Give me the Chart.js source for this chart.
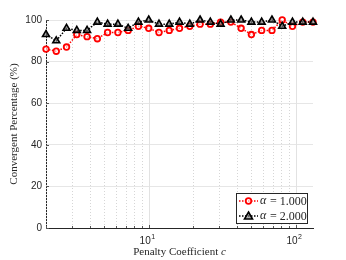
<!DOCTYPE html>
<html>
<head>
<meta charset="utf-8">
<script src="https://cdn.jsdelivr.net/npm/chart.js@4/dist/chart.umd.min.js"></script>
<style>
	html, body { margin: 0; padding: 0; background: #fff; }
	#wrap { width: 346px; height: 260px; }
</style>
</head>
<body>
<div id="wrap"><canvas id="conv"></canvas></div>
<script>
// penalty coefficient c (log spaced, 2 .. ~131)
const penalty = [2.000, 2.349, 2.759, 3.241, 3.807, 4.472, 5.253, 6.170, 7.248, 8.513,
	10.00, 11.75, 13.80, 16.21, 19.04, 22.36, 26.27, 30.85, 36.24, 42.57,
	50.00, 58.73, 68.99, 81.03, 95.18, 111.8, 131.3];
// convergent percentage for each alpha
const alpha1 = [86, 85, 87, 93, 92, 91, 94, 94, 95, 97,
	96, 94, 95, 96, 97, 98, 98, 99, 99, 96,
	93, 95, 95, 100, 97, 99, 99];
const alpha2 = [93, 90, 96, 95, 95, 99, 98, 98, 96, 99,
	100, 98, 98, 99, 98, 100, 99, 98, 100, 100,
	99, 99, 100, 97, 99, 99, 99];
const seriesNames = ["1.000", "2.000"];
const yTicks = [0, 20, 40, 60, 80, 100];
const xGrid = [2, 3, 4, 5, 6, 7, 8, 9, 10, 20, 30, 40, 50, 60, 70, 80, 90, 100];
const xMajor = [10, 100];

const axisCol = "#262626";
const sans = "'Liberation Sans', Arial, sans-serif";
const serif = "'Liberation Serif', 'DejaVu Serif', serif";

function pts(ys) {
	let out = [];
	for (let i = 0; i < penalty.length; i++) out.push({ x: penalty[i], y: ys[i] });
	return out;
}

// grid, inward ticks, labels and legend drawn the matlab way
const matlabLook = {
	id: "matlabLook",
	beforeDatasetsDraw(chart) {
		const ctx = chart.ctx;
		const a = chart.chartArea;
		const xs = chart.scales.x;
		const ys = chart.scales.y;
		ctx.save();
		for (const v of xGrid) {
			const px = Math.round(xs.getPixelForValue(v)) + 0.5;
			const major = xMajor.includes(v);
			ctx.strokeStyle = major ? "#e2e2e2" : "#d6d6d6";
			ctx.setLineDash(major ? [] : [1, 2]);
			ctx.lineWidth = 1;
			ctx.beginPath();
			ctx.moveTo(px, a.top);
			ctx.lineTo(px, a.bottom);
			ctx.stroke();
		}
		ctx.setLineDash([]);
		ctx.strokeStyle = "#555";
		for (const v of xGrid) {
			const px = Math.round(xs.getPixelForValue(v)) + 0.5;
			const len = xMajor.includes(v) ? 3 : 2;
			ctx.beginPath();
			ctx.moveTo(px, a.bottom);
			ctx.lineTo(px, a.bottom - len);
			ctx.stroke();
		}
		for (const v of yTicks) {
			const py = Math.round(ys.getPixelForValue(v)) + 0.5;
			ctx.beginPath();
			ctx.moveTo(a.left, py);
			ctx.lineTo(a.left + 3, py);
			ctx.stroke();
		}
		ctx.restore();
	},
	afterDraw(chart) {
		const ctx = chart.ctx;
		const a = chart.chartArea;
		const xs = chart.scales.x;
		ctx.save();
		ctx.fillStyle = axisCol;
		// x tick labels 10^1, 10^2
		for (let i = 0; i < xMajor.length; i++) {
			const px = xs.getPixelForValue(xMajor[i]);
			ctx.font = "10px " + sans;
			ctx.textAlign = "right";
			ctx.textBaseline = "alphabetic";
			ctx.fillText("10", px + 2, a.bottom + 16);
			ctx.font = "7px " + sans;
			ctx.textAlign = "left";
			ctx.fillText(String(i + 1), px + 2.5, a.bottom + 11);
		}
		// x title
		ctx.font = "11px " + serif;
		const t1 = "Penalty Coefficient ";
		const w1 = ctx.measureText(t1).width;
		ctx.font = "italic 11px " + serif;
		const w2 = ctx.measureText("c").width;
		const cx = (a.left + a.right) / 2;
		let x0 = cx - (w1 + w2) / 2;
		ctx.textAlign = "left";
		ctx.font = "11px " + serif;
		ctx.fillText(t1, x0, 255);
		ctx.font = "italic 11px " + serif;
		ctx.fillText("c", x0 + w1, 255);
		// y title
		ctx.translate(17, (a.top + a.bottom) / 2);
		ctx.rotate(-Math.PI / 2);
		ctx.textAlign = "center";
		ctx.font = "11px " + serif;
		ctx.fillText("Convergent Percentage (%)", 0, 0);
		ctx.restore();

		// legend box
		ctx.save();
		const bx = a.right - 77, by = a.bottom - 35, bw = 71, bh = 30;
		ctx.fillStyle = "#fff";
		ctx.fillRect(bx, by, bw, bh);
		ctx.strokeStyle = axisCol;
		ctx.lineWidth = 1;
		ctx.strokeRect(bx + 0.5, by + 0.5, bw, bh);
		chart.data.datasets.forEach((ds, i) => {
			const ly = by + 8 + i * 15;
			ctx.strokeStyle = ds.borderColor;
			ctx.lineWidth = 1.5;
			ctx.setLineDash([1.5, 1.5]);
			ctx.beginPath();
			ctx.moveTo(bx + 3, ly);
			ctx.lineTo(bx + 22, ly);
			ctx.stroke();
			ctx.setLineDash([]);
			ctx.lineWidth = ds.pointBorderWidth;
			ctx.strokeStyle = ds.pointBorderColor;
			ctx.fillStyle = ds.pointBackgroundColor;
			const mx = bx + 12.5;
			ctx.beginPath();
			if (ds.pointStyle === "circle") {
				ctx.arc(mx, ly, ds.pointRadius, 0, Math.PI * 2);
			} else {
				const r = ds.pointRadius;
				ctx.moveTo(mx, ly - r);
				ctx.lineTo(mx + r, ly + r * 0.75);
				ctx.lineTo(mx - r, ly + r * 0.75);
				ctx.closePath();
			}
			ctx.fill();
			ctx.stroke();
			ctx.fillStyle = axisCol;
			ctx.textBaseline = "middle";
			ctx.textAlign = "left";
			ctx.font = "italic 12px " + serif;
			ctx.fillText("\u03b1", bx + 24, ly);
			ctx.font = "12px " + serif;
			ctx.fillText(" = " + seriesNames[i], bx + 31, ly + 0.5);
		});
		ctx.restore();
	}
};

new Chart("conv", {
	type: "line",
	data: {
		datasets: [
			{
				label: "alpha = " + seriesNames[0],
				data: pts(alpha1),
				borderColor: "#ff0000",
				borderWidth: 1.5,
				borderDash: [1.5, 1.5],
				pointStyle: "circle",
				pointRadius: 2.8,
				pointBorderWidth: 1.8,
				pointBorderColor: "#ff0000",
				pointBackgroundColor: "rgba(255,255,255,0.6)",
				clip: false,
				order: 1,
			},
			{
				label: "alpha = " + seriesNames[1],
				data: pts(alpha2),
				borderColor: "#000000",
				borderWidth: 1.5,
				borderDash: [1.5, 1.5],
				pointStyle: "triangle",
				pointRadius: 4,
				pointBorderWidth: 1.6,
				pointBorderColor: "#000000",
				pointBackgroundColor: "rgba(120,120,120,0.6)",
				clip: false,
				order: 0,
			},
		],
	},
	options: {
		responsive: true,
		maintainAspectRatio: false,
		animation: false,
		layout: { padding: { left: 0, right: 33, top: 20, bottom: 0 } },
		plugins: {
			legend: { display: false },
			tooltip: { enabled: false },
		},
		scales: {
			x: {
				type: "logarithmic",
				min: penalty[0],
				max: penalty[penalty.length - 1],
				grid: { display: false },
				border: { display: true, color: axisCol, width: 1 },
				ticks: { display: false },
				afterFit(scale) { scale.height = 32; },
			},
			y: {
				type: "linear",
				min: 0,
				max: 100,
				afterBuildTicks(scale) { scale.ticks = yTicks.map(v => ({ value: v })); },
				grid: { color: "#e6e6e6", drawTicks: false },
				border: { display: true, color: axisCol, width: 1 },
				ticks: {
					color: axisCol,
					font: { family: sans, size: 10 },
					padding: 4,
				},
				afterFit(scale) { scale.width = 46; },
			},
		},
	},
	plugins: [matlabLook],
});
</script>
</body>
</html>
